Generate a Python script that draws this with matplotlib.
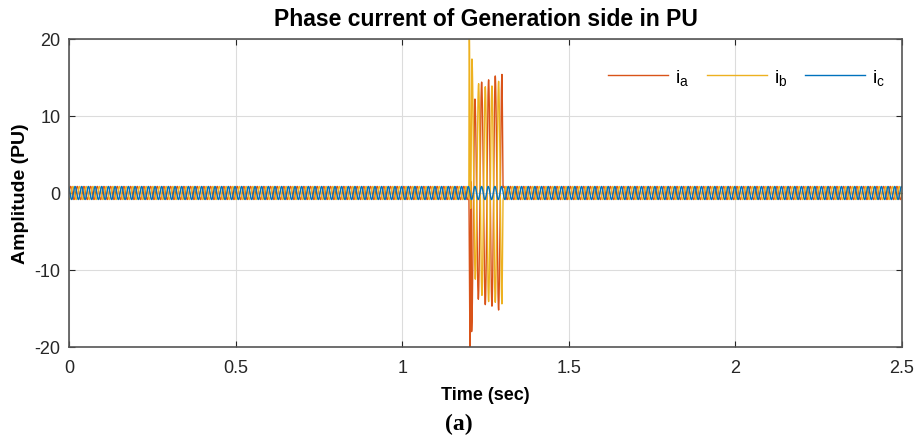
import matplotlib.pyplot as plt
import numpy as np

plt.rcParams['font.family'] = ['Liberation Sans', 'DejaVu Sans']
plt.rcParams['mathtext.fontset'] = 'custom'
plt.rcParams['mathtext.rm'] = 'Liberation Sans'
plt.rcParams['mathtext.it'] = 'Liberation Sans'
plt.rcParams['axes.unicode_minus'] = False

# signal description
f_grid = 50.0                 # Hz
amp_normal = 0.85             # PU, pre/post fault amplitude
phase_deg = [0.0, -120.0, 120.0]   # ia, ib, ic
t_end = 2.5
fault_start, fault_end = 1.2, 1.3

# extrema of ia and ib during the fault (time s, value PU)
ia_peak_t = [1.2035, 1.2060, 1.2084, 1.2184, 1.2286, 1.2385, 1.2494,
             1.2594, 1.2694, 1.2794, 1.2894, 1.2995]
ia_peak_v = [-21.0, 1.5, -18.0, 12.2, -13.8, 14.4, -14.5,
             14.7, -14.7, 15.2, -15.2, 15.4]
ib_peak_t = [1.2013, 1.2055, 1.2094, 1.2194, 1.2294, 1.2394, 1.2494,
             1.2594, 1.2694, 1.2794, 1.2894, 1.2994]
ib_peak_v = [22.0, -2.0, 17.4, -11.2, 14.2, -13.3, 13.8,
             -14.1, 13.9, -14.2, 14.5, -14.4]

labels = ['$i_a$', '$i_b$', '$i_c$']
colors = ['#D95319', '#EDB120', '#0072BD']

t = np.arange(0, t_end, 1e-4)


def phase_current(ph):
    return amp_normal * np.sin(2 * np.pi * f_grid * t + np.deg2rad(ph))


def fault_shape(base, pk_t, pk_v):
    # half-cosine segments between the read extrema
    y = base.copy()
    i0 = np.searchsorted(t, fault_start)
    i1 = np.searchsorted(t, fault_end + 0.003)
    kt = [t[i0]] + pk_t + [t[i1]]
    kv = [base[i0]] + pk_v + [base[i1]]
    for a, b, va, vb in zip(kt[:-1], kt[1:], kv[:-1], kv[1:]):
        m = (t >= a) & (t <= b)
        s = (t[m] - a) / (b - a)
        y[m] = va + (vb - va) * (1 - np.cos(np.pi * s)) / 2
    return y


ia = fault_shape(phase_current(phase_deg[0]), ia_peak_t, ia_peak_v)
ib = fault_shape(phase_current(phase_deg[1]), ib_peak_t, ib_peak_v)
ic = phase_current(phase_deg[2])

fig = plt.figure(figsize=(9.17, 4.39), dpi=100)
ax = fig.add_axes([0.0752, 0.2073, 0.9084, 0.7016])

for y, lab, c in zip([ia, ib, ic], labels, colors):
    ax.plot(t, y, color=c, lw=1.0, label=lab)

ax.set_xlim(0, 2.5)
ax.set_ylim(-20, 20)
ax.set_xticks([0, 0.5, 1, 1.5, 2, 2.5])
ax.set_xticklabels(['0', '0.5', '1', '1.5', '2', '2.5'])
ax.set_yticks([-20, -10, 0, 10, 20])
ax.grid(True, color='#dcdcdc', lw=0.8)
ax.tick_params(direction='in', top=True, right=True, labelsize=13,
               colors='#262626', length=4)
ax.tick_params(axis='x', pad=9)
ax.tick_params(axis='y', pad=6)
for sp in ax.spines.values():
    sp.set_color('#555555')
    sp.set_linewidth(1.2)

ax.set_title('Phase current of Generation side in PU', fontsize=16.5,
             fontweight='bold', pad=10)
ax.set_xlabel('Time (sec)', fontsize=13, fontweight='bold', labelpad=7)
ax.set_ylabel('Amplitude (PU)', fontsize=14, fontweight='bold', labelpad=4)

ax.legend(loc='upper right', ncol=3, frameon=False, fontsize=14,
          handlelength=3.1, columnspacing=0.9, handletextpad=0.35,
          bbox_to_anchor=(1.0, 0.965))

fig.text(0.5, 0.034, '(a)', ha='center', va='center', fontsize=17,
         fontweight='bold', family='Liberation Serif')

fig.savefig('out.png', dpi=100)
